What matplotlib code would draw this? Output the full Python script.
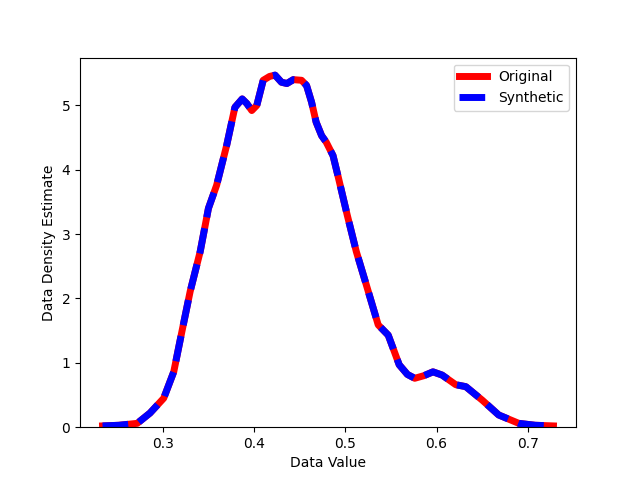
import matplotlib
matplotlib.use("Agg")
import matplotlib.pyplot as plt

# density curves (x, density)
orig_x = [0.234, 0.252, 0.272, 0.286, 0.301, 0.312, 0.321, 0.330, 0.341, 0.350,
          0.359, 0.370, 0.379, 0.387, 0.392, 0.3975, 0.403, 0.410, 0.417, 0.423,
          0.430, 0.436, 0.443, 0.452, 0.4575, 0.463, 0.468, 0.474, 0.479, 0.4865,
          0.492, 0.502, 0.512, 0.523, 0.536, 0.547, 0.559, 0.568, 0.576, 0.586,
          0.596, 0.606, 0.621, 0.632, 0.650, 0.668, 0.690, 0.708, 0.728]
orig_y = [0.02, 0.03, 0.06, 0.22, 0.45, 0.86, 1.49, 2.11, 2.73, 3.40,
          3.76, 4.38, 4.97, 5.10, 5.03, 4.92, 5.00, 5.39, 5.45, 5.47,
          5.36, 5.34, 5.40, 5.39, 5.31, 5.05, 4.74, 4.53, 4.43, 4.22,
          3.90, 3.30, 2.73, 2.21, 1.59, 1.43, 0.97, 0.82, 0.76, 0.80,
          0.86, 0.81, 0.66, 0.63, 0.42, 0.19, 0.06, 0.03, 0.02]

syn_x = list(orig_x)
syn_y = list(orig_y)


def main():
    plt.figure(figsize=(6.4, 4.8), dpi=100)
    plt.plot(orig_x, orig_y, color="red", linewidth=5, label="Original",
             solid_joinstyle="round")
    plt.plot(syn_x, syn_y, color="blue", linewidth=5, linestyle="--", label="Synthetic",
             dash_joinstyle="round")
    plt.ylim(bottom=0)
    plt.xlabel("Data Value")
    plt.ylabel("Data Density Estimate")
    plt.legend(loc="upper right")
    plt.savefig("out.png")
    plt.close()


if __name__ == '__main__':
    main()
